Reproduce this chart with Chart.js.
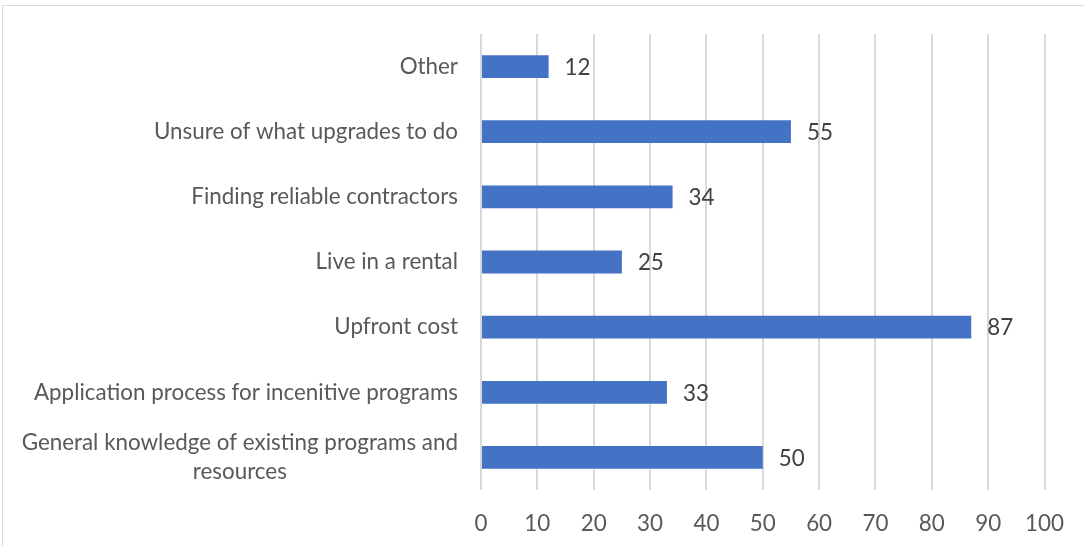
<!DOCTYPE html>
<html>
<head>
<meta charset="utf-8">
<script src="https://cdn.jsdelivr.net/npm/chart.js@4/dist/chart.umd.min.js"></script>
<style>
  html, body { margin: 0; padding: 0; background: #fff; overflow: hidden; }
  #wrap { position: relative; width: 1084px; height: 546px; }
  #frame { position: absolute; left: 2px; top: 5px; width: 1200px; height: 700px; border: 1px solid #d9d9d9; box-sizing: border-box; }
  canvas { position: absolute; left: 0; top: 0; }
</style>
</head>
<body>
<div id="wrap">
  <div id="frame"></div>
  <canvas id="barriers" width="1084" height="546"></canvas>
</div>
<script>
// survey answers, top to bottom
var categories = [
  "Other",
  "Unsure of what upgrades to do",
  "Finding reliable contractors",
  "Live in a rental",
  "Upfront cost",
  "Application process for incenitive programs",
  ["General knowledge of existing programs and", "resources"]
];
var responses = [12, 55, 34, 25, 87, 33, 50];
var xTicks = [0, 10, 20, 30, 40, 50, 60, 70, 80, 90, 100];

var FONT = "Lato, 'Open Sans', sans-serif";
var FONT_SIZE = 22.4;

//Draws category names (multi-line ones centred on their widest line) and the value beside each bar
const labelPlugin = {
  id: 'labelPlugin',
  afterDatasetsDraw(chart) {
    const ctx = chart.ctx;
    const meta = chart.getDatasetMeta(0);
    const xs = chart.scales.x;
    ctx.save();
    ctx.font = FONT_SIZE + "px " + FONT;
    ctx.textBaseline = 'middle';

    categories.forEach(function(cat, i){
      var bar = meta.data[i];
      var lines = Array.isArray(cat) ? cat : [cat];
      var widest = 0;
      lines.forEach(function(l){ widest = Math.max(widest, ctx.measureText(l).width); });
      var right = chart.chartArea.left - 23;
      var lineH = 29;
      var startY = bar.y - (lines.length - 1) * lineH / 2;
      ctx.fillStyle = '#595959';
      ctx.textAlign = 'center';
      lines.forEach(function(l, k){
        ctx.fillText(l, right - widest / 2, startY + k * lineH);
      });

      ctx.fillStyle = '#404040';
      ctx.textAlign = 'left';
      ctx.fillText(String(responses[i]), xs.getPixelForValue(responses[i]) + 16, bar.y + 1);
    });
    ctx.restore();
  }
};

new Chart(document.getElementById('barriers'), {
  type: 'bar',
  data: {
    labels: categories,
    datasets: [{
      data: responses,
      backgroundColor: '#4472C4',
      borderWidth: 0,
      barPercentage: 0.7,
      categoryPercentage: 0.5
    }]
  },
  options: {
    indexAxis: 'y',
    responsive: false,
    animation: false,
    devicePixelRatio: 1,
    layout: { padding: { top: 34, right: 39, left: 0, bottom: 0 } },
    plugins: {
      legend: { display: false },
      tooltip: { enabled: false }
    },
    scales: {
      x: {
        min: 0,
        max: 100,
        afterBuildTicks: function(scale){
          scale.ticks = xTicks.map(function(v){ return { value: v }; });
        },
        afterFit: function(scale){ scale.height = 56; },
        grid: { color: '#d9d9d9', lineWidth: 2, drawTicks: false },
        border: { display: false },
        ticks: {
          padding: 20,
          color: '#595959',
          font: { family: FONT, size: FONT_SIZE }
        }
      },
      y: {
        afterFit: function(scale){ scale.width = 481; },
        grid: { display: false },
        border: { display: false },
        ticks: { display: false }
      }
    }
  },
  plugins: [labelPlugin]
});
</script>
</body>
</html>
